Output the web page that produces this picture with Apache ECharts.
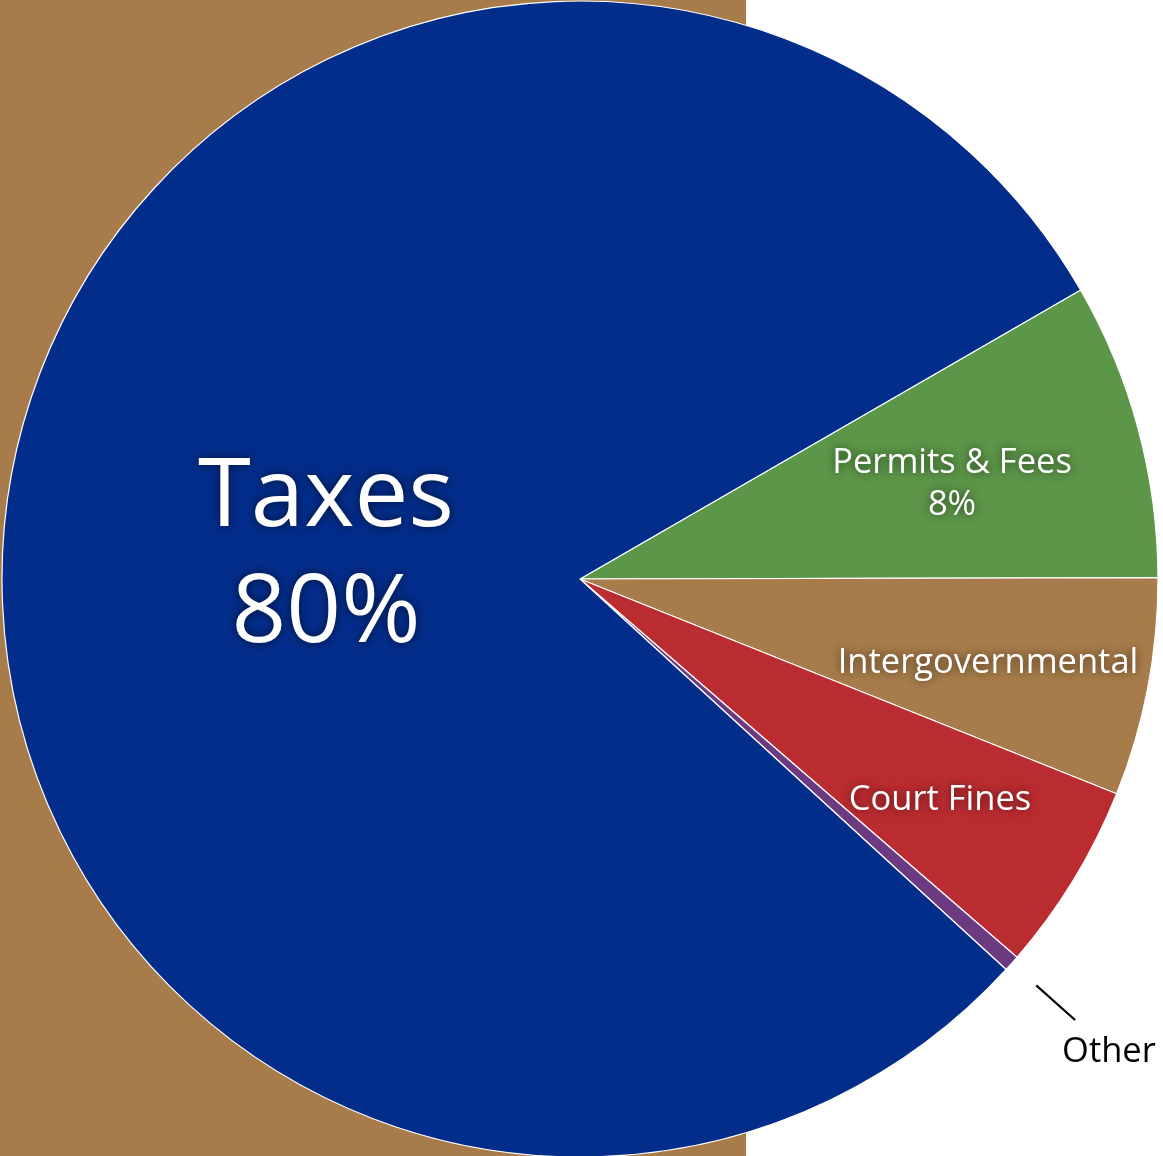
<!DOCTYPE html>
<html>
<head>
<meta charset="utf-8">
<script src="https://cdn.jsdelivr.net/npm/echarts@6/dist/echarts.min.js"></script>
<style>
  html, body { margin: 0; padding: 0; background: #ffffff; }
  #chart { width: 1163px; height: 1156px; }
</style>
</head>
<body>
<div id="chart"></div>
<script>
// ---- Data (clockwise from the Taxes / Permits boundary) ----
const categories = ['Permits & Fees', 'Intergovernmental', 'Court Fines', 'Other', 'Taxes'];
const values = [8.3, 6.1, 5.3, 0.45, 79.9];
const showPercent = ['Permits & Fees', 'Taxes'];

// ---- Styles ----
const colors = {
  'Permits & Fees': '#5C9648',
  'Intergovernmental': '#A77C4A',
  'Court Fines': '#BB2C30',
  'Other': '#6B3A80',
  'Taxes': '#032D8A'
};
const labelAnchors = {
  'Permits & Fees': [952, 484],
  'Intergovernmental': [988, 663],
  'Court Fines': [940, 800],
  'Taxes': [326, 557]
};
const FONT = '"Open Sans", "Noto Sans", sans-serif';
const CX = 580, CY = 579, R = 578;

const chart = echarts.init(document.getElementById('chart'), null, { renderer: 'canvas' });

const mainData = categories.map((c, i) => ({
  name: c,
  value: values[i],
  itemStyle: { color: colors[c] },
  label: c === 'Taxes'
    ? { show: true, fontSize: 96, lineHeight: 116 }
    : { show: c !== 'Other' }
}));

const guideData = categories.map((c, i) => ({
  name: c,
  value: values[i],
  label: { show: c === 'Other' },
  labelLine: { show: c === 'Other' }
}));

chart.setOption({
  backgroundColor: '#ffffff',
  animation: false,
  graphic: [{
    type: 'rect',
    z: -10,
    shape: { x: 0, y: 0, width: 746, height: 1156 },
    style: { fill: '#A77C4A' },
    silent: true
  }],
  series: [
    {
      type: 'pie',
      center: [CX, CY],
      radius: [0, R],
      startAngle: 30,
      clockwise: true,
      avoidLabelOverlap: false,
      silent: true,
      itemStyle: { borderColor: '#ffffff', borderWidth: 1.2 },
      label: {
        position: 'inside',
        color: '#ffffff',
        fontFamily: FONT,
        fontSize: 34.5,
        lineHeight: 42,
        textShadowColor: 'rgba(0,0,0,0.6)',
        textShadowBlur: 10,
        formatter: p => showPercent.includes(p.name)
          ? p.name + '\n' + Math.round(p.percent) + '%'
          : p.name
      },
      labelLine: { show: false },
      labelLayout: p => {
        const a = labelAnchors[categories[p.dataIndex]];
        return a ? { x: a[0], y: a[1], align: 'center', verticalAlign: 'middle' } : {};
      },
      data: mainData
    },
    {
      type: 'pie',
      center: [CX, CY],
      radius: [0, 611],
      startAngle: 30,
      clockwise: true,
      avoidLabelOverlap: false,
      silent: true,
      z: 3,
      itemStyle: { color: 'rgba(0,0,0,0)', borderWidth: 0 },
      label: {
        position: 'outside',
        color: '#000000',
        fontFamily: FONT,
        fontSize: 34.5,
        lineHeight: 32,
        distanceToLabelLine: -13,
        width: 120,
        overflow: 'none',
        bleedMargin: 0,
        formatter: p => '\n\n' + p.name
      },
      labelLine: {
        length: 52,
        length2: 0,
        smooth: false,
        lineStyle: { color: '#000000', width: 2.2 }
      },
      data: guideData
    }
  ]
});
</script>
</body>
</html>
